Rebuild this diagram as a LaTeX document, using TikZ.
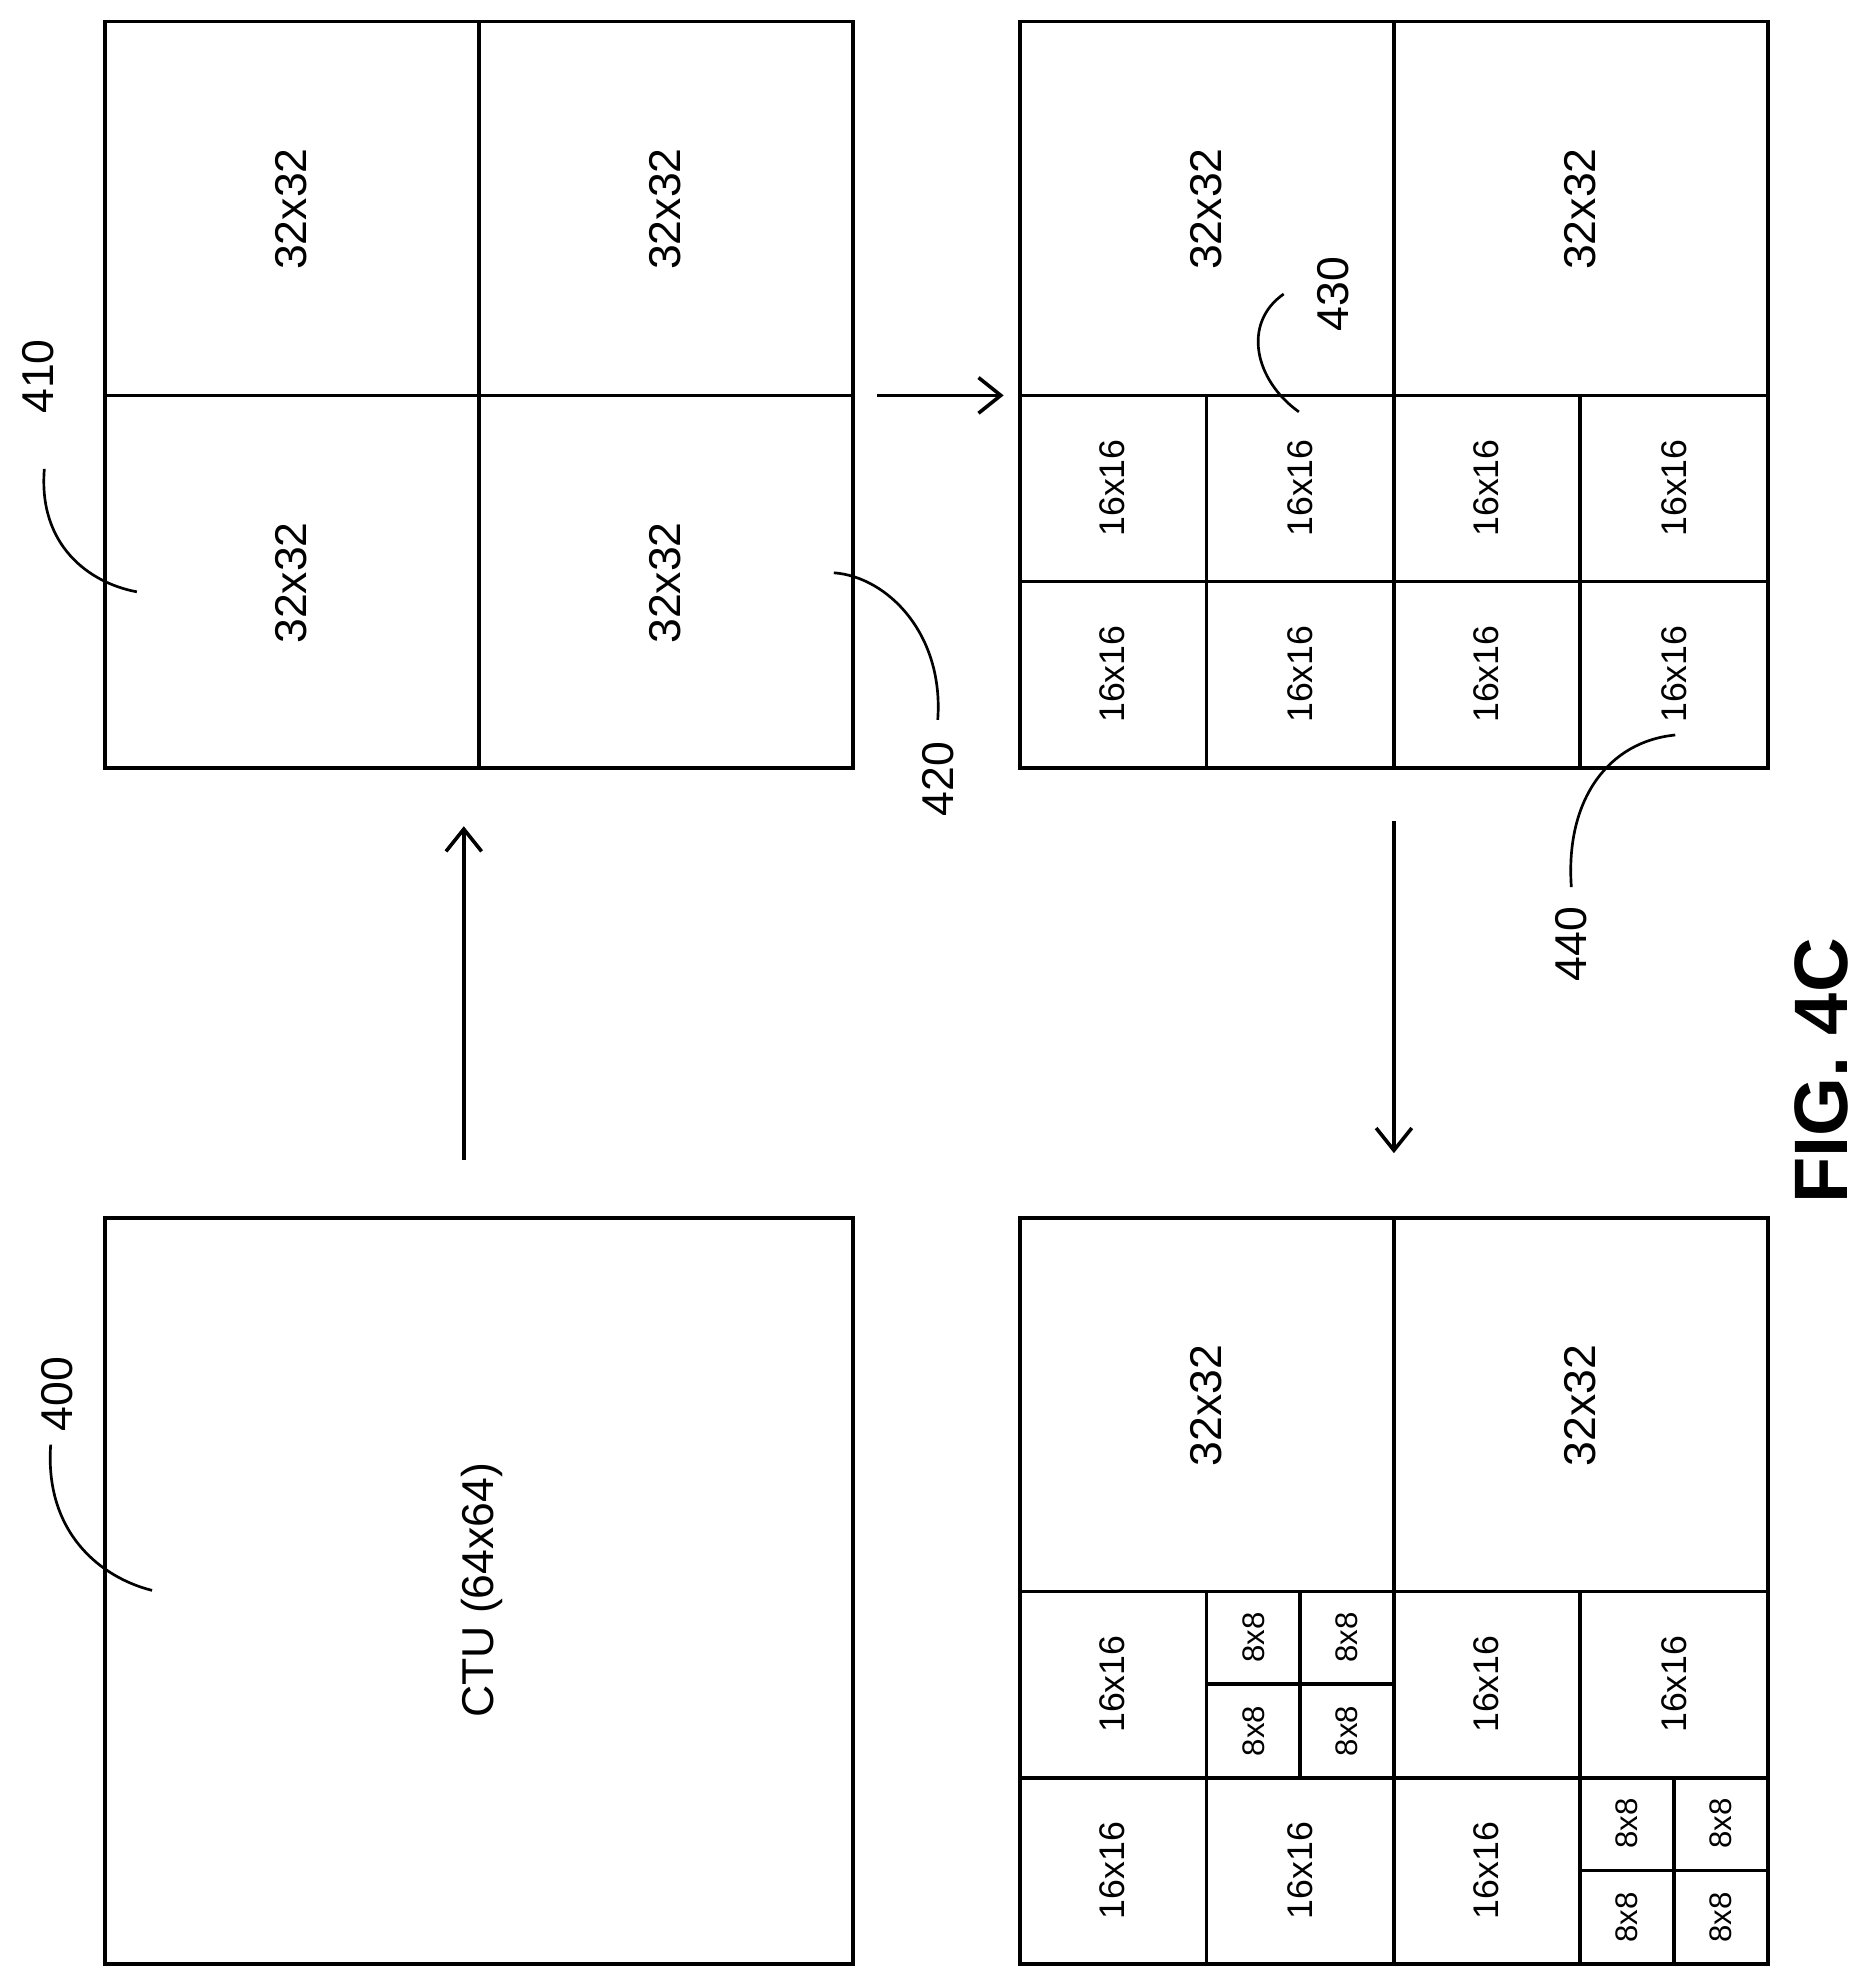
\documentclass[tikz,border=0pt]{standalone}
\usepackage{fontspec}
\setmainfont{Liberation Sans}
\usetikzlibrary{arrows.meta}
\begin{document}
\begin{tikzpicture}[x=0.01cm,y=-0.01cm,line width=0.8pt,
	big/.style={rotate=90,font=\fontsize{10}{12}\selectfont},
	mid/.style={rotate=90,font=\fontsize{8}{10}\selectfont},
	small/.style={rotate=90,font=\fontsize{7}{9}\selectfont},
	ref/.style={rotate=90,font=\fontsize{10}{12}\selectfont},
	lead/.style={line width=0.6pt},
	splitarrow/.style={-{Straight Barb[length=5pt,width=8pt]}}]
	\useasboundingbox (0,0) rectangle (1470,1568);
	% CTU
	\draw (83,961) rectangle (673,1550);
	\node[big] (ctu) at (380,1255) {CTU (64x64)};
	% first split
	\draw (83,17) rectangle (673,606);
	\draw (378,17) -- (378,606) (83,312) -- (673,312);
	\foreach \x in {230,525}
		\foreach \y in {165,460}
			\node[big] at (\x,\y) {32x32};
	% second split
	\begin{scope}[shift={(722,0)}]
		\draw (83,17) rectangle (673,606);
		\draw (378,17) -- (378,606) (83,312) -- (673,312);
		\draw (230,312) -- (230,606) (525,312) -- (525,606) (83,459) -- (673,459);
		\foreach \x in {230,525}
			\node[big] at (\x,165) {32x32};
		\foreach \x in {156,304,451,599}
			\foreach \y in {385,532}
				\node[mid] at (\x,\y) {16x16};
	\end{scope}
	% third split
	\begin{scope}[shift={(722,944)}]
		\draw (83,17) rectangle (673,606);
		\draw (378,17) -- (378,606) (83,312) -- (673,312);
		\draw (230,312) -- (230,606) (525,312) -- (525,606) (83,459) -- (673,459);
		\draw (304,312) -- (304,459) (230,385) -- (378,385);
		\draw (599,459) -- (599,606) (525,532) -- (673,532);
		\foreach \x in {230,525}
			\node[big] at (\x,165) {32x32};
		\node[mid] at (156,385) {16x16};
		\node[mid] at (451,385) {16x16};
		\node[mid] at (599,385) {16x16};
		\node[mid] at (156,532) {16x16};
		\node[mid] at (304,532) {16x16};
		\node[mid] at (451,532) {16x16};
		\foreach \x/\y in {267/348,341/348,267/422,341/422,562/495,636/495,562/569,636/569}
			\node[small] at (\x,\y) {8x8};
	\end{scope}
	% steps
	\coordinate (a0) at (366,915); \coordinate (a1) at (366,652);
	\coordinate (b0) at (692,312); \coordinate (b1) at (792,312);
	\coordinate (c0) at (1100,648); \coordinate (c1) at (1100,910);
	\draw[splitarrow] (a0) -- (a1);
	\draw[splitarrow] (b0) -- (b1);
	\draw[splitarrow] (c0) -- (c1);
	% reference numerals
	\node[ref] (r400) at (45,1100) {400};
	\draw[lead] (40,1140) .. controls (35,1210) and (80,1245) .. (120,1255);
	\node[ref] (r410) at (30,297) {410};
	\draw[lead] (35,370) .. controls (30,430) and (70,460) .. (108,467);
	\node[ref] (r420) at (740,615) {420};
	\draw[lead] (740,568) .. controls (745,500) and (700,455) .. (658,452);
	\node[ref] (r430) at (1052,232) {430};
	\draw[lead] (1025,325) .. controls (990,300) and (980,255) .. (1013,232);
	\node[ref] (r440) at (1240,745) {440};
	\draw[lead] (1240,700) .. controls (1235,630) and (1270,585) .. (1322,580);
	\node[rotate=90,font=\bfseries\fontsize{17}{20}\selectfont] (fig) at (1437,845) {FIG. 4C};
\end{tikzpicture}
\end{document}
